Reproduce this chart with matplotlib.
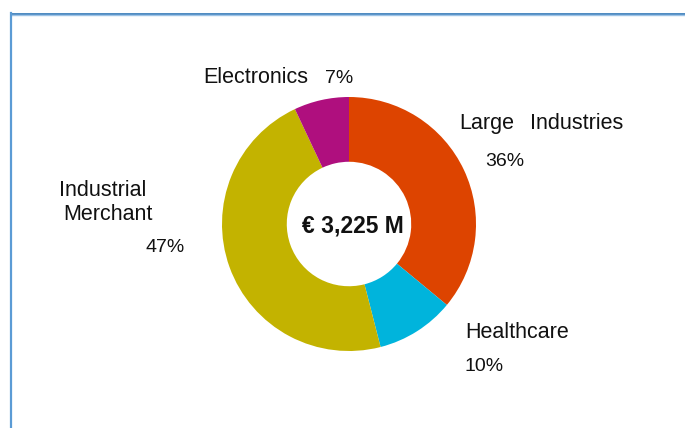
import matplotlib.pyplot as plt
import matplotlib
from matplotlib.lines import Line2D
matplotlib.rcParams['font.family'] = ['Liberation Sans', 'DejaVu Sans']

segments = ['Large Industries', 'Healthcare', 'Industrial Merchant', 'Electronics']
shares = [36, 10, 47, 7]
colors = ['#DD4400', '#00B4DC', '#C3B300', '#AF0F7E']
total = '€ 3,225 M'

W, H = 685, 428
fig = plt.figure(figsize=(W / 100, H / 100), dpi=100)
ax = fig.add_axes([0, 0, 1, 1])

cx, cy, r = 349, H - 224, 127
ax.pie(shares, colors=colors, startangle=90, counterclock=False,
       center=(cx, cy), radius=r, frame=True,
       wedgeprops=dict(width=r * 0.51, linewidth=0))
ax.set_xlim(0, W)
ax.set_ylim(0, H)
ax.set_aspect('auto')
ax.axis('off')


def px(x, y, s, size, **kw):
    ax.text(x, H - y, s, fontsize=size, ha='left', va='baseline', color='#111111', **kw)


lab, pct = 15.5, 14
px(203, 83, 'Electronics', lab)
px(325, 83, f'{shares[3]}%', pct)
px(459, 129, 'Large', lab)
px(530, 129, 'Industries', lab)
px(485, 166, f'{shares[0]}%', pct)
px(59, 196, 'Industrial', lab)
px(63, 220, 'Merchant', lab)
px(146, 252, f'{shares[2]}%', pct)
px(465, 338, 'Healthcare', lab)
px(465, 371, f'{shares[1]}%', pct)
px(302, 232, total, 16.5, fontweight='bold')

# frame lines (top and left only)
fig.add_artist(Line2D([11 / W, 1], [1 - 13.5 / H] * 2, color='#2E75B6', lw=1.2, transform=fig.transFigure))
fig.add_artist(Line2D([11 / W, 1], [1 - 15 / H] * 2, color='#9DC3E6', lw=1.0, transform=fig.transFigure))
fig.add_artist(Line2D([11 / W] * 2, [0, 1 - 13 / H], color='#5B9BD5', lw=1.6, transform=fig.transFigure))

fig.savefig('out.png', dpi=100)
